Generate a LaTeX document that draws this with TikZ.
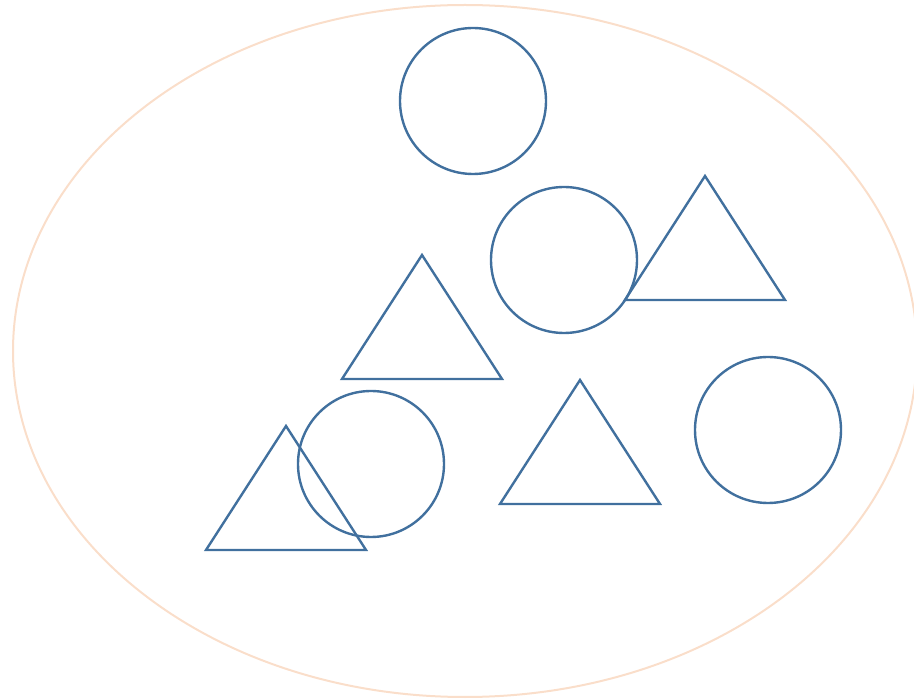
\documentclass[tikz,border=0pt]{standalone}
\usetikzlibrary{positioning}

\definecolor{shapeblue}{RGB}{65,112,158}
\definecolor{peach}{RGB}{250,222,202}

\begin{document}
\begin{tikzpicture}[
  x=1pt, y=-1pt,
  ring/.style={circle, draw=shapeblue, line width=2.4pt, minimum size=146pt, inner sep=0pt},
  tri/.style={draw=shapeblue, line width=2.4pt, line join=miter},
  bound/.style={draw=peach, line width=2pt}
]

\useasboundingbox (0,0) rectangle (914,700);
\begin{scope}
\clip (0,0) rectangle (914,700);
\draw[bound] (465,351) ellipse [x radius=452, y radius=346];
\end{scope}

% circles
\node[ring] (c1) at (473,101) {};
\node[ring] (c2) at (564,260) {};
\node[ring] (c3) at (768,430) {};
\node[ring] (c4) at (371,464) {};

% triangles (apex given)
\foreach \ax/\ay in {705/176, 422/255, 580/380, 286/426}
  \draw[tri] (\ax,\ay) -- ++(80,124) -- ++(-160,0) -- cycle;

\end{tikzpicture}
\end{document}
